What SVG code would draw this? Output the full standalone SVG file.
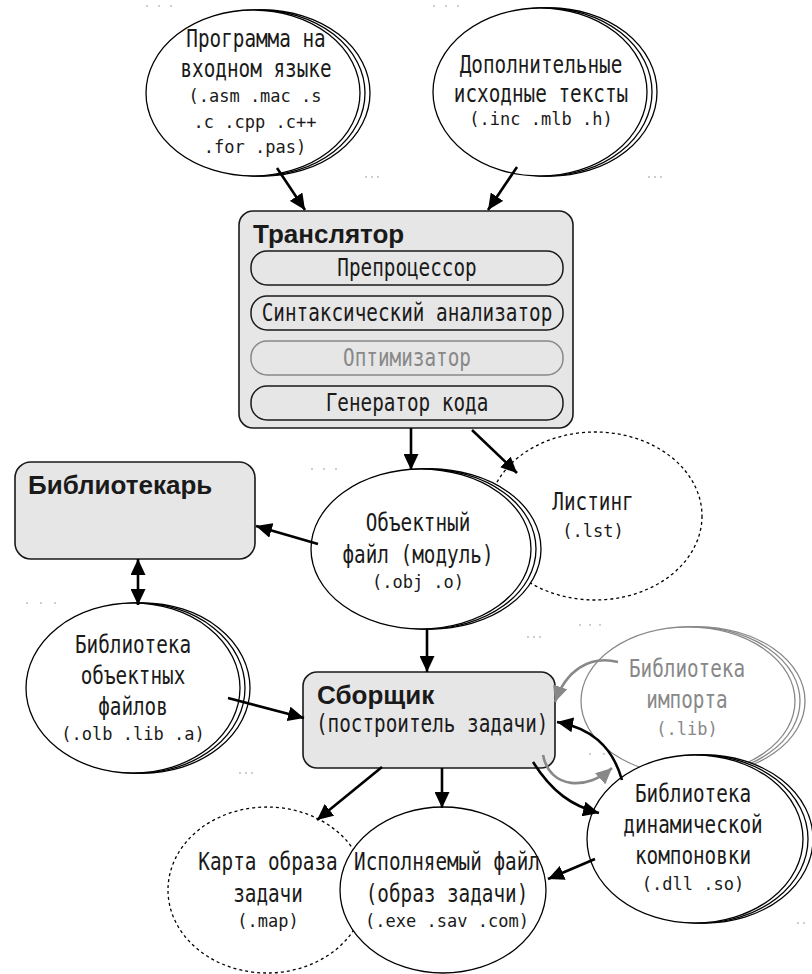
<svg xmlns="http://www.w3.org/2000/svg" width="812" height="974" viewBox="0 0 812 974">
  <style>
    .t { font-family: "DejaVu Sans Mono", "Liberation Mono", monospace; font-size: 24px; text-anchor: middle; fill: #1a1a1a; }
    .m { font-family: "DejaVu Sans Mono", "Liberation Mono", monospace; font-size: 17px; text-anchor: middle; fill: #1a1a1a; }
    .b { font-family: "Liberation Sans", Arial, sans-serif; font-weight: bold; font-size: 26px; fill: #1a1a1a; }
    .gray { fill: #888; }
    .box { fill: #e6e6e6; stroke: #1a1a1a; stroke-width: 1.6; }
    .pill { fill: #e6e6e6; stroke: #1a1a1a; stroke-width: 1.5; }
    .pill-off { fill: #e6e6e6; stroke: #888; stroke-width: 1.5; }
    .ell { fill: #fff; stroke: #000; stroke-width: 1.3; }
    .ell-gray { fill: #fff; stroke: #888; stroke-width: 1.3; }
    .dotted { fill: #fff; stroke: #000; stroke-width: 1.3; stroke-dasharray: 3 3; }
    .arrow { fill: none; stroke: #000; stroke-width: 2.6; marker-end: url(#ah); }
    .arrow-gray { fill: none; stroke: #888; stroke-width: 2.6; marker-end: url(#ahg); }
    .dot { fill: #777; }
  </style>
  <defs>
    <marker id="ah" markerUnits="userSpaceOnUse" markerWidth="17" markerHeight="15" refX="16" refY="7.5" orient="auto">
      <path d="M0,0 L16,7.5 L0,15 z" fill="#000"/>
    </marker>
    <marker id="ah2" markerUnits="userSpaceOnUse" markerWidth="17" markerHeight="15" refX="16" refY="7.5" orient="auto-start-reverse">
      <path d="M0,0 L16,7.5 L0,15 z" fill="#000"/>
    </marker>
    <marker id="ahg" markerUnits="userSpaceOnUse" markerWidth="17" markerHeight="15" refX="16" refY="7.5" orient="auto">
      <path d="M0,0 L16,7.5 L0,15 z" fill="#888"/>
    </marker>
  </defs>

  <rect width="812" height="974" fill="#fff"/>

  <!-- stray grid marks -->
  <g id="marks">
    <circle class="dot" cx="147" cy="6" r="0.7"/><circle class="dot" cx="159" cy="6" r="0.7"/><circle class="dot" cx="171" cy="6" r="0.7"/>
    <circle class="dot" cx="434" cy="6" r="0.7"/><circle class="dot" cx="446" cy="6" r="0.7"/><circle class="dot" cx="458" cy="6" r="0.7"/>
    <circle class="dot" cx="366" cy="177" r="0.7"/><circle class="dot" cx="372" cy="177" r="0.7"/><circle class="dot" cx="378" cy="177" r="0.7"/>
    <circle class="dot" cx="649" cy="177" r="0.7"/><circle class="dot" cx="655" cy="177" r="0.7"/><circle class="dot" cx="661" cy="177" r="0.7"/>
    <circle class="dot" cx="312" cy="469" r="0.7"/><circle class="dot" cx="324" cy="469" r="0.7"/><circle class="dot" cx="336" cy="469" r="0.7"/>
    <circle class="dot" cx="27" cy="603" r="0.7"/><circle class="dot" cx="41" cy="603" r="0.7"/><circle class="dot" cx="55" cy="603" r="0.7"/>
    <circle class="dot" cx="580" cy="625" r="0.7"/><circle class="dot" cx="590" cy="625" r="0.7"/><circle class="dot" cx="600" cy="625" r="0.7"/>
    <circle class="dot" cx="528" cy="637" r="0.7"/><circle class="dot" cx="534" cy="637" r="0.7"/><circle class="dot" cx="540" cy="637" r="0.7"/>
    <circle class="dot" cx="240" cy="773" r="0.7"/><circle class="dot" cx="246" cy="773" r="0.7"/><circle class="dot" cx="252" cy="773" r="0.7"/>
    <circle class="dot" cx="590" cy="754" r="0.7"/><circle class="dot" cx="604" cy="754" r="0.7"/><circle class="dot" cx="618" cy="754" r="0.7"/>
    <circle class="dot" cx="798" cy="923" r="0.7"/><circle class="dot" cx="804" cy="923" r="0.7"/>
  </g>

  <!-- source program -->
  <g id="source">
    <ellipse class="ell" cx="263" cy="93" rx="107" ry="83"/>
    <ellipse class="ell" cx="258" cy="93" rx="107" ry="83"/>
    <ellipse class="ell" cx="253" cy="93" rx="107" ry="83"/>
    <text class="t" transform="translate(256,47) scale(0.805,1)">Программа на</text>
    <text class="t" transform="translate(256,77) scale(0.805,1)">входном языке</text>
    <text class="m" x="255" y="102">(.asm .mac .s</text>
    <text class="m" x="255" y="128">.c .cpp .c++</text>
    <text class="m" x="255" y="153">.for .pas)</text>
  </g>

  <!-- include sources -->
  <g id="includes">
    <ellipse class="ell" cx="550" cy="92" rx="107" ry="84"/>
    <ellipse class="ell" cx="545" cy="92" rx="107" ry="84"/>
    <ellipse class="ell" cx="540" cy="92" rx="107" ry="84"/>
    <text class="t" transform="translate(541,73) scale(0.805,1)">Дополнительные</text>
    <text class="t" transform="translate(541,102) scale(0.805,1)">исходные тексты</text>
    <text class="m" x="541" y="125">(.inc .mlb .h)</text>
  </g>

  <!-- translator -->
  <g id="translator">
    <rect class="box" x="239" y="211" width="334" height="217" rx="14"/>
    <text class="b" x="253" y="243">Транслятор</text>
    <rect class="pill" x="251" y="251" width="312" height="34" rx="16"/>
    <text class="t" transform="translate(407,276) scale(0.805,1)">Препроцессор</text>
    <rect class="pill" x="251" y="296" width="312" height="34" rx="16"/>
    <text class="t" transform="translate(407,321) scale(0.805,1)">Синтаксический анализатор</text>
    <rect class="pill-off" x="251" y="341" width="312" height="34" rx="16"/>
    <text class="t gray" transform="translate(407,366) scale(0.805,1)">Оптимизатор</text>
    <rect class="pill" x="251" y="386" width="312" height="34" rx="16"/>
    <text class="t" transform="translate(407,411) scale(0.805,1)">Генератор кода</text>
  </g>

  <!-- listing -->
  <g id="listing">
    <ellipse class="dotted" cx="595" cy="516" rx="107" ry="84"/>
    <text class="t" transform="translate(593,510) scale(0.805,1)">Листинг</text>
    <text class="m" x="593" y="537">(.lst)</text>
  </g>

  <!-- object file -->
  <g id="object">
    <ellipse class="ell" cx="431" cy="549" rx="110" ry="80"/>
    <ellipse class="ell" cx="426" cy="549" rx="110" ry="80"/>
    <ellipse class="ell" cx="421" cy="549" rx="110" ry="80"/>
    <text class="t" transform="translate(418,531) scale(0.805,1)">Объектный</text>
    <text class="t" transform="translate(418,563) scale(0.805,1)">файл (модуль)</text>
    <text class="m" x="418" y="588">(.obj .o)</text>
  </g>

  <!-- librarian -->
  <g id="librarian">
    <rect class="box" x="15" y="462" width="240" height="97" rx="16"/>
    <text class="b" x="28" y="494">Библиотекарь</text>
  </g>

  <!-- object library -->
  <g id="objlib">
    <ellipse class="ell" cx="143" cy="688" rx="107" ry="85"/>
    <ellipse class="ell" cx="138" cy="688" rx="107" ry="85"/>
    <ellipse class="ell" cx="133" cy="688" rx="107" ry="85"/>
    <text class="t" transform="translate(133,653) scale(0.805,1)">Библиотека</text>
    <text class="t" transform="translate(133,684) scale(0.805,1)">объектных</text>
    <text class="t" transform="translate(133,715) scale(0.805,1)">файлов</text>
    <text class="m" x="133" y="740">(.olb .lib .a)</text>
  </g>

  <!-- linker -->
  <g id="linker">
    <rect class="box" x="303" y="672" width="252" height="96" rx="14"/>
    <text class="b" x="317" y="704">Сборщик</text>
    <text class="t" transform="translate(316,732) scale(0.805,1)" style="text-anchor:start">(построитель задачи)</text>
  </g>

  <!-- import library -->
  <g id="implib">
    <ellipse class="ell-gray" cx="698" cy="701" rx="107" ry="74"/>
    <ellipse class="ell-gray" cx="693" cy="701" rx="107" ry="74"/>
    <ellipse class="ell-gray" cx="688" cy="701" rx="107" ry="74"/>
    <text class="t gray" transform="translate(687,677) scale(0.805,1)">Библиотека</text>
    <text class="t gray" transform="translate(687,708) scale(0.805,1)">импорта</text>
    <text class="m gray" x="687" y="735">(.lib)</text>
  </g>

  <!-- dynamic library -->
  <g id="dll">
    <ellipse class="ell" cx="705" cy="839" rx="108" ry="84"/>
    <ellipse class="ell" cx="700" cy="839" rx="108" ry="84"/>
    <ellipse class="ell" cx="695" cy="839" rx="108" ry="84"/>
    <text class="t" transform="translate(693,802) scale(0.805,1)">Библиотека</text>
    <text class="t" transform="translate(693,833) scale(0.805,1)">динамической</text>
    <text class="t" transform="translate(693,864) scale(0.805,1)">компоновки</text>
    <text class="m" x="693" y="890">(.dll .so)</text>
  </g>

  <!-- map file -->
  <g id="map">
    <ellipse class="dotted" cx="267" cy="890" rx="99" ry="83"/>
    <text class="t" transform="translate(268,870) scale(0.805,1)">Карта образа</text>
    <text class="t" transform="translate(268,902) scale(0.805,1)">задачи</text>
    <text class="m" x="268" y="927">(.map)</text>
  </g>

  <!-- executable -->
  <g id="exec">
    <ellipse class="ell" cx="443" cy="890" rx="103" ry="83"/>
    <text class="t" transform="translate(447,870) scale(0.805,1)">Исполняемый файл</text>
    <text class="t" transform="translate(447,902) scale(0.805,1)">(образ задачи)</text>
    <text class="m" x="447" y="927">(.exe .sav .com)</text>
  </g>

  <!-- connectors -->
  <g id="connectors">
    <path class="arrow" d="M277,168 L305,210"/>
    <path class="arrow" d="M517,167 L488,210"/>
    <path class="arrow" d="M411,428 L411,470"/>
    <path class="arrow" d="M472,430 L517,473"/>
    <path class="arrow" d="M318,544 L256,526"/>
    <path d="M138,559 L138,605" fill="none" stroke="#000" stroke-width="2.6" marker-start="url(#ah2)" marker-end="url(#ah2)"/>
    <path class="arrow" d="M228,698 L304,718"/>
    <path class="arrow" d="M427,629 L427,672"/>
    <path class="arrow-gray" d="M618,662 C590,655 566,670 555,702"/>
    <path class="arrow-gray" d="M543,755 C550,790 588,790 612,768"/>
    <path class="arrow" d="M622,780 C612,745 590,728 557,722"/>
    <path class="arrow" d="M533,762 C552,792 572,806 599,813"/>
    <path class="arrow" d="M595,859 L548,879"/>
    <path class="arrow" d="M382,767 L317,820"/>
    <path class="arrow" d="M442,768 L442,808"/>
  </g>
</svg>
